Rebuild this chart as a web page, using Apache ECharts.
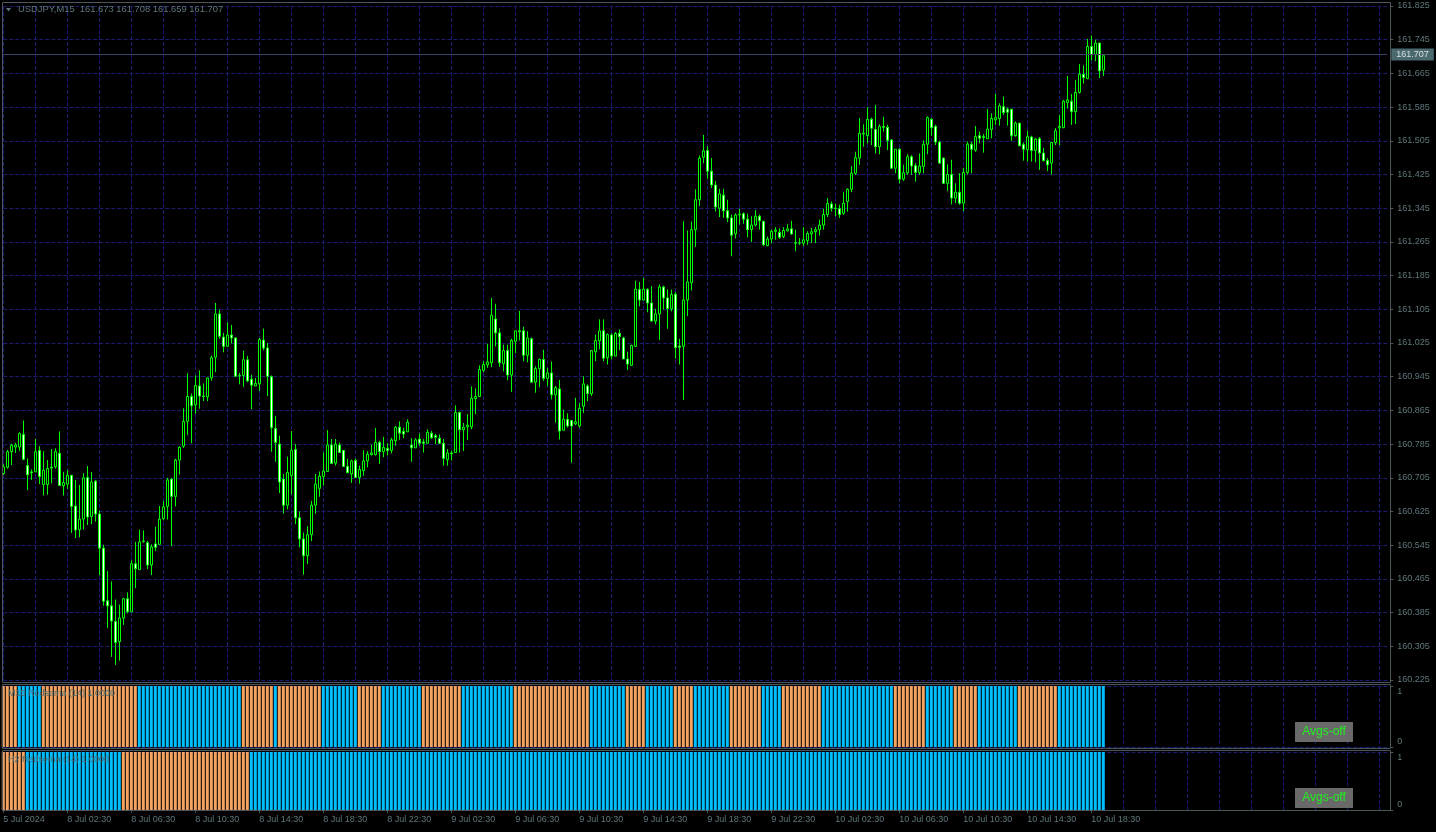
<!DOCTYPE html>
<html><head><meta charset="utf-8">
<script src="https://cdn.jsdelivr.net/npm/echarts@6/dist/echarts.min.js"></script>
<style>html,body{margin:0;padding:0;background:#000;}#c{width:1436px;height:832px;}</style>
</head><body><div id="c"></div>
<script>
const symbolName = 'USDJPY,M15';
const opens = [
160.715,160.730,160.767,160.778,160.778,160.808,160.734,160.719,160.719,160.770,
160.689,160.689,160.730,160.731,160.763,160.686,160.690,160.711,160.638,160.582,
160.607,160.706,160.613,160.697,160.619,160.538,160.413,160.401,160.364,160.316,
160.372,160.418,160.387,160.501,160.487,160.554,160.551,160.498,160.548,160.547,
160.608,160.637,160.702,160.661,160.747,160.780,160.839,160.898,160.878,160.923,
160.899,160.897,160.942,160.991,161.094,161.039,161.017,161.044,161.037,160.947,
160.948,160.985,160.939,160.923,160.928,161.032,161.013,160.945,160.822,160.785,
160.702,160.640,160.710,160.772,160.610,160.560,160.520,160.570,160.640,160.680,
160.708,160.720,160.783,160.740,160.783,160.770,160.732,160.714,160.746,160.706,
160.722,160.745,160.760,160.760,160.789,160.767,160.775,160.770,160.793,160.825,
160.815,160.814,160.783,160.776,160.797,160.790,160.787,160.811,160.805,160.799,
160.787,160.748,160.764,160.765,160.860,160.819,160.826,160.826,160.893,160.898,
160.960,160.973,160.978,161.082,161.049,160.976,161.007,160.949,161.029,161.054,
161.054,160.996,161.035,160.932,160.964,160.986,160.941,160.954,160.902,160.916,
160.818,160.844,160.841,160.833,160.828,160.875,160.923,160.905,161.004,161.030,
161.054,160.990,161.044,160.994,161.048,161.037,160.987,160.972,161.017,161.152,
161.127,161.152,161.120,161.077,161.094,161.158,161.132,161.106,161.141,161.018,
161.017,161.127,161.168,161.294,161.365,161.466,161.482,161.433,161.400,161.345,
161.376,161.339,161.322,161.284,161.329,161.332,161.319,161.294,161.305,161.326,
161.314,161.256,161.272,161.290,161.288,161.278,161.291,161.296,161.263,161.262,
161.262,161.268,161.284,161.289,161.294,161.305,161.330,161.355,161.345,161.344,
161.333,161.361,161.390,161.428,161.464,161.521,161.517,161.556,161.532,161.491,
161.539,161.537,161.507,161.440,161.485,161.414,161.429,161.467,161.446,161.430,
161.444,161.497,161.556,161.539,161.502,161.464,161.404,161.425,161.369,161.383,
161.357,161.430,161.497,161.483,161.517,161.515,161.510,161.532,161.555,161.558,
161.586,161.580,161.580,161.517,161.547,161.496,161.484,161.514,161.482,161.510,
161.476,161.458,161.452,161.501,161.536,161.536,161.596,161.599,161.574,161.620,
161.663,161.653,161.729,161.710,161.737,161.673];
const highs = [
160.737,160.771,160.786,160.788,160.813,160.841,160.751,160.725,160.797,160.780,
160.768,160.747,160.773,160.775,160.815,160.719,160.723,160.711,160.700,160.688,
160.716,160.733,160.719,160.700,160.627,160.546,160.484,160.459,160.416,160.404,
160.420,160.433,160.509,160.553,160.582,160.580,160.555,160.547,160.589,160.638,
160.650,160.705,160.704,160.750,160.780,160.870,160.953,160.905,160.948,160.960,
160.929,160.943,160.995,161.120,161.104,161.049,161.074,161.068,161.039,160.954,
161.007,160.994,160.950,160.942,161.037,161.059,161.025,160.948,160.852,160.805,
160.714,160.755,160.816,160.785,160.625,160.575,160.590,160.650,160.714,160.720,
160.765,160.818,160.797,160.797,160.789,160.770,160.750,160.748,160.751,160.734,
160.770,160.768,160.784,160.823,160.793,160.802,160.787,160.800,160.828,160.839,
160.824,160.844,160.799,160.799,160.810,160.797,160.820,160.816,160.809,160.808,
160.797,160.773,160.769,160.877,160.862,160.835,160.856,160.922,160.917,160.972,
160.982,161.023,161.132,161.118,161.060,161.021,161.021,161.035,161.054,161.101,
161.064,161.053,161.038,160.970,160.988,161.009,160.966,160.981,160.923,160.937,
160.867,160.858,160.841,160.895,160.882,160.946,160.927,161.007,161.045,161.081,
161.081,161.048,161.048,161.051,161.057,161.040,161.004,161.021,161.173,161.170,
161.179,161.155,161.160,161.106,161.164,161.161,161.152,161.152,161.146,161.035,
161.314,161.292,161.313,161.390,161.470,161.519,161.492,161.464,161.410,161.391,
161.391,161.365,161.330,161.333,161.344,161.335,161.332,161.326,161.341,161.330,
161.314,161.278,161.294,161.300,161.297,161.300,161.307,161.315,161.294,161.274,
161.300,161.290,161.298,161.300,161.318,161.344,161.369,161.361,161.356,161.353,
161.383,161.392,161.445,161.479,161.559,161.544,161.585,161.560,161.590,161.544,
161.562,161.543,161.509,161.485,161.487,161.448,161.473,161.471,161.452,161.475,
161.506,161.563,161.559,161.543,161.505,161.465,161.449,161.460,161.404,161.428,
161.441,161.503,161.503,161.540,161.527,161.521,161.580,161.570,161.616,161.594,
161.610,161.584,161.580,161.551,161.547,161.501,161.529,161.517,161.511,161.514,
161.488,161.464,161.501,161.535,161.566,161.602,161.659,161.616,161.649,161.687,
161.684,161.747,161.755,161.745,161.737,161.708];
const lows = [
160.712,160.727,160.735,160.764,160.769,160.747,160.676,160.700,160.719,160.690,
160.663,160.665,160.692,160.727,160.686,160.663,160.679,160.574,160.562,160.564,
160.582,160.593,160.595,160.601,160.474,160.401,160.349,160.280,160.261,160.271,
160.356,160.383,160.387,160.443,160.487,160.551,160.488,160.474,160.531,160.547,
160.604,160.606,160.543,160.637,160.713,160.776,160.807,160.787,160.857,160.869,
160.887,160.887,160.935,160.956,161.035,161.003,161.017,161.024,160.945,160.927,
160.921,160.932,160.868,160.923,160.911,161.008,160.899,160.767,160.743,160.669,
160.620,160.630,160.665,160.595,160.540,160.475,160.500,160.555,160.620,160.660,
160.687,160.720,160.739,160.734,160.764,160.732,160.716,160.693,160.704,160.691,
160.710,160.730,160.758,160.758,160.738,160.754,160.758,160.763,160.781,160.795,
160.799,160.814,160.743,160.776,160.780,160.765,160.787,160.797,160.785,160.785,
160.734,160.734,160.746,160.765,160.765,160.769,160.795,160.820,160.856,160.898,
160.956,160.966,160.968,161.017,160.968,160.958,160.937,160.909,161.001,161.031,
160.982,160.979,160.932,160.907,160.920,160.935,160.923,160.891,160.836,160.796,
160.818,160.824,160.741,160.830,160.824,160.859,160.887,160.899,160.982,161.010,
160.982,160.974,160.986,160.994,161.008,160.987,160.961,160.972,161.017,161.112,
161.127,161.098,161.077,161.069,161.032,161.104,161.059,161.100,160.988,160.974,
160.890,161.089,161.150,161.253,161.350,161.452,161.415,161.393,161.337,161.324,
161.322,161.312,161.231,161.273,161.306,161.308,161.276,161.265,161.302,161.294,
161.255,161.255,161.262,161.270,161.272,161.274,161.290,161.282,161.243,161.258,
161.255,161.258,161.262,161.262,161.280,161.294,161.324,161.337,161.326,161.322,
161.329,161.337,161.383,161.424,161.448,161.491,161.499,161.495,161.475,161.473,
161.527,161.483,161.438,161.428,161.404,161.410,161.424,161.424,161.408,161.424,
161.428,161.473,161.517,161.495,161.452,161.404,161.386,161.354,161.357,161.353,
161.338,161.425,161.428,161.479,161.499,161.477,161.510,161.511,161.543,161.541,
161.566,161.541,161.505,161.515,161.493,161.458,161.456,161.456,161.454,161.436,
161.456,161.433,161.425,161.495,161.495,161.535,161.582,161.543,161.545,161.617,
161.641,161.651,161.696,161.694,161.654,161.659];
const closes = [
160.731,160.767,160.782,160.783,160.810,160.749,160.712,160.717,160.767,160.708,
160.723,160.727,160.728,160.767,160.687,160.694,160.711,160.637,160.581,160.607,
160.705,160.612,160.695,160.619,160.538,160.412,160.401,160.365,160.314,160.372,
160.418,160.387,160.501,160.489,160.553,160.555,160.498,160.541,160.540,160.607,
160.636,160.700,160.661,160.747,160.777,160.839,160.898,160.876,160.924,160.899,
160.898,160.942,160.990,161.094,161.041,161.017,161.044,161.037,160.946,160.948,
160.985,160.935,160.925,160.929,161.033,161.013,160.946,160.824,160.789,160.695,
160.640,160.718,160.770,160.610,160.560,160.520,160.570,160.640,160.690,160.709,
160.721,160.783,160.739,160.785,160.765,160.732,160.717,160.745,160.706,160.725,
160.745,160.761,160.764,160.789,160.767,160.777,160.770,160.795,160.825,160.811,
160.809,160.837,160.776,160.795,160.787,160.787,160.813,160.800,160.801,160.787,
160.751,160.764,160.762,160.860,160.819,160.825,160.830,160.894,160.898,160.962,
160.974,160.980,161.091,161.049,160.978,161.007,160.949,161.031,161.054,161.052,
160.996,161.037,160.932,160.964,160.986,160.941,160.954,160.902,160.919,160.816,
160.844,160.828,160.828,160.838,160.870,160.928,160.905,161.007,161.031,161.054,
160.989,161.045,160.994,161.048,161.040,160.987,160.975,161.019,161.153,161.127,
161.153,161.120,161.077,161.094,161.158,161.132,161.107,161.140,161.014,161.015,
161.127,161.170,161.294,161.365,161.464,161.481,161.433,161.400,161.348,161.379,
161.339,161.322,161.281,161.329,161.331,161.319,161.294,161.305,161.326,161.315,
161.258,161.272,161.290,161.293,161.276,161.292,161.296,161.284,161.262,161.263,
161.270,161.285,161.289,161.294,161.305,161.330,161.356,161.345,161.344,161.330,
161.357,161.390,161.428,161.465,161.523,161.523,161.556,161.535,161.491,161.539,
161.537,161.506,161.440,161.485,161.414,161.429,161.467,161.445,161.430,161.445,
161.497,161.560,161.536,161.502,161.452,161.404,161.425,161.369,161.383,161.357,
161.430,161.497,161.485,161.515,161.511,161.513,161.533,161.558,161.560,161.588,
161.572,161.573,161.517,161.547,161.493,161.485,161.515,161.482,161.509,161.476,
161.458,161.448,161.501,161.529,161.539,161.599,161.602,161.574,161.620,161.663,
161.655,161.729,161.710,161.737,161.671,161.707];

const priceTicks = [160.225,160.305,160.385,160.465,160.545,160.625,160.705,160.785,160.865,160.945,
  161.025,161.105,161.185,161.265,161.345,161.425,161.505,161.585,161.665,161.745,161.825];
const tickLabels = ['5 Jul 2024','8 Jul 02:30','8 Jul 06:30','8 Jul 10:30','8 Jul 14:30','8 Jul 18:30',
  '8 Jul 22:30','9 Jul 02:30','9 Jul 06:30','9 Jul 10:30','9 Jul 14:30','9 Jul 18:30','9 Jul 22:30',
  '10 Jul 02:30','10 Jul 06:30','10 Jul 10:30','10 Jul 14:30','10 Jul 18:30'];
// indicator colour runs: o = down (orange), b = up (blue)
const m15Runs = [['o',4],['b',6],['o',24],['b',26],['o',8],['b',1],['o',11],['b',9],['o',6],['b',10],
  ['o',10],['b',13],['o',19],['b',9],['o',5],['b',7],['o',5],['b',9],['o',8],['b',5],['o',10],['b',18],
  ['o',8],['b',7],['o',6],['b',10],['o',10],['b',12]];
const h2Runs = [['o',6],['b',24],['o',32],['b',214]];
const lastPrice = 161.707;
const shiftBars = 71;

const nBars = opens.length;
const nCats = nBars + shiftBars;
const cats = [];
for (let i = 0; i < nCats; i++) {
  const t = i < 6 ? Date.UTC(2024,6,5,22,30) + i*900000 : Date.UTC(2024,6,8,0,0) + (i-6)*900000;
  const d = new Date(t);
  cats.push(d.getUTCDate()+' Jul '+String(d.getUTCHours()).padStart(2,'0')+':'+String(d.getUTCMinutes()).padStart(2,'0'));
}
function expand(runs){ const s=[]; runs.forEach(r=>{for(let i=0;i<r[1];i++) s.push(r[0]);}); return s; }
const m15State = expand(m15Runs), h2State = expand(h2Runs);
const ORANGE = '#f4a460', BLUE = '#00bfff';
const candleData = opens.map((o,i)=>[o, closes[i], lows[i], highs[i]]);
const histData = st => st.map(s => ({value:1, itemStyle:{color: s==='b'?BLUE:ORANGE}}));

const TXT = '#5f777c', FRAME = '#4c575b', GRID = '#1c1c72';
const FONT = 'Liberation Sans';
const gridL = 3.3, gridW = 4*(nCats-1);
const splitX = {show:true, interval:(i)=>i%8===0, lineStyle:{color:GRID, type:[4,2], width:1}};
function xAx(gi, withLabels){
  return {type:'category', gridIndex:gi, data:cats, boundaryGap:false,
    axisLine:{show:false},
    axisTick:{show:withLabels, interval:(i)=>i%16===0 && i<nBars, length:3, lineStyle:{color:FRAME}},
    axisLabel:{show:withLabels, interval:(i)=>i%16===0 && i<nBars, formatter:(v,i)=>tickLabels[Math.round(i/16)]||'',
      align:'left', color:TXT, fontFamily:FONT, fontSize:9, margin:5},
    splitLine:splitX};
}
function panelY(gi){
  return {type:'value', gridIndex:gi, position:'right', offset:3, min:0, max:1,
    axisLine:{show:false},
    axisTick:{show:true, customValues:[0,1], length:3, lineStyle:{color:FRAME}},
    axisLabel:{customValues:[0,1], margin:7,
      formatter:v=> v===1 ? '{t|1}' : '{b|0}',
      rich:{t:{padding:[12,0,0,0], color:TXT, fontFamily:FONT, fontSize:9},
            b:{padding:[0,0,10,0], color:TXT, fontFamily:FONT, fontSize:9}}},
    splitLine:{show:true, lineStyle:{color:GRID, type:[4,2]}}};
}
const titleStr = symbolName+'  '+[opens[nBars-1],highs[nBars-1],lows[nBars-1],closes[nBars-1]].map(v=>v.toFixed(3)).join(' ');

const chart = echarts.init(document.getElementById('c'), null, {renderer:'canvas'});
chart.setOption({
  backgroundColor:'#000000',
  animation:false,
  grid:[
    {left:gridL, top:6, width:gridW, height:674, outerBoundsMode:'none'},
    {left:gridL, top:686, width:gridW, height:61, outerBoundsMode:'none'},
    {left:gridL, top:752, width:gridW, height:58, outerBoundsMode:'none'}
  ],
  xAxis:[xAx(0,false), xAx(1,false), xAx(2,true)],
  yAxis:[
    {type:'value', gridIndex:0, position:'right', offset:3, min:160.225, max:161.825, scale:true,
      axisLine:{show:false},
      axisTick:{show:true, customValues:priceTicks, length:3, lineStyle:{color:FRAME}},
      axisLabel:{customValues:priceTicks, formatter:v=>v.toFixed(3), color:TXT, fontFamily:FONT, fontSize:9, margin:7},
      splitLine:{show:true, lineStyle:{color:GRID, type:[4,2]}}},
    panelY(1), panelY(2)
  ],
  series:[
    {type:'candlestick', xAxisIndex:0, yAxisIndex:0, data:candleData, barWidth:2,
      itemStyle:{color:'#000000', color0:'#ffffff', borderColor:'#00ff00', borderColor0:'#00ff00', borderWidth:1},
      markLine:{silent:true, symbol:['none','none'], animation:false,
        lineStyle:{color:'#3b4563', type:'solid', width:1},
        label:{show:true, position:'end', distance:4, formatter:()=>lastPrice.toFixed(3),
          color:'#d8e0e0', backgroundColor:'#4a6a70', padding:[1,5,0,5], fontFamily:FONT, fontSize:9, lineHeight:11},
        data:[{yAxis:lastPrice}]}},
    {type:'bar', xAxisIndex:1, yAxisIndex:1, data:histData(m15State), barWidth:3},
    {type:'bar', xAxisIndex:2, yAxisIndex:2, data:histData(h2State), barWidth:3}
  ],
  graphic:[
    {type:'rect', z:50, shape:{x:2.5,y:2.5,width:1388,height:680}, style:{fill:null, stroke:FRAME, lineWidth:1}},
    {type:'rect', z:50, shape:{x:2.5,y:684.5,width:1388,height:64}, style:{fill:null, stroke:FRAME, lineWidth:1}},
    {type:'rect', z:50, shape:{x:2.5,y:750.5,width:1388,height:60}, style:{fill:null, stroke:FRAME, lineWidth:1}},
    {type:'polygon', z:60, shape:{points:[[6,8],[11,8],[8.5,11.5]]}, style:{fill:TXT}},
    {type:'text', z:60, left:18, top:5, style:{text:titleStr, fill:TXT, font:'9.4px "Liberation Sans"'}},
    {type:'text', z:60, left:8, top:689, style:{text:'M15 Redsema (14) 1.0000', fill:'#4d6d73', font:'9px "Liberation Sans"'}},
    {type:'text', z:60, left:8, top:755, style:{text:'H2 Redsema (14) 1.0000', fill:'#4d6d73', font:'9px "Liberation Sans"'}},
    {type:'rect', z:60, shape:{x:1295,y:722,width:58,height:20}, style:{fill:'#696969'}},
    {type:'text', z:61, x:1324, y:732, style:{text:'Avgs-off', fill:'#22ee22', font:'12px "Liberation Sans"', textAlign:'center', textVerticalAlign:'middle'}},
    {type:'rect', z:60, shape:{x:1295,y:788,width:58,height:20}, style:{fill:'#696969'}},
    {type:'text', z:61, x:1324, y:798, style:{text:'Avgs-off', fill:'#22ee22', font:'12px "Liberation Sans"', textAlign:'center', textVerticalAlign:'middle'}}
  ]
});
</script></body></html>
